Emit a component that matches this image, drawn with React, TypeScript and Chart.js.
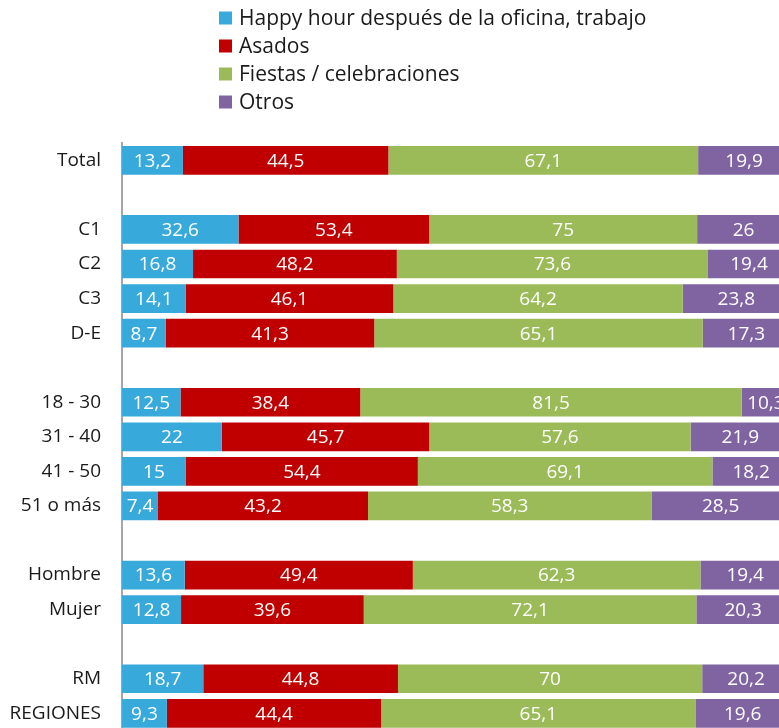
import React, { useEffect, useRef } from "react";
import { Chart, registerables } from "chart.js";

Chart.register(...registerables);

const categories = ["Total", "", "C1", "C2", "C3", "D-E", "", "18 - 30", "31 - 40", "41 - 50", "51 o más", "", "Hombre", "Mujer", "", "RM", "REGIONES"];
const happyHour = [13.2, null, 32.6, 16.8, 14.1, 8.7, null, 12.5, 22, 15, 7.4, null, 13.6, 12.8, null, 18.7, 9.3];
const asados = [44.5, null, 53.4, 48.2, 46.1, 41.3, null, 38.4, 45.7, 54.4, 43.2, null, 49.4, 39.6, null, 44.8, 44.4];
const fiestas = [67.1, null, 75, 73.6, 64.2, 65.1, null, 81.5, 57.6, 69.1, 58.3, null, 62.3, 72.1, null, 70, 65.1];
const otros = [19.9, null, 26, 19.4, 23.8, 17.3, null, 10.3, 21.9, 18.2, 28.5, null, 19.4, 20.3, null, 20.2, 19.6];

const seriesNames = ["Happy hour después de la oficina, trabajo", "Asados", "Fiestas / celebraciones", "Otros"];
const seriesColors = ["#38A9DB", "#C00000", "#9BBB59", "#8064A2"];
const seriesValues = [happyHour, asados, fiestas, otros];

const FONT = "'Open Sans', sans-serif";

export default function App() {
  const ref = useRef<HTMLCanvasElement>(null);
  useEffect(() => {
    if (!ref.current) return;
    const totals = categories.map((_, i) =>
      seriesValues.reduce((s, arr) => s + (arr[i] == null ? 0 : (arr[i] as number)), 0)
    );
    const datasets = seriesValues.map((arr, k) => ({
      label: seriesNames[k],
      backgroundColor: seriesColors[k],
      borderWidth: 0,
      raw: arr,
      data: arr.map((v, i) => (v == null ? null : ((v as number) / totals[i]) * 100)),
      barPercentage: 0.83,
      categoryPercentage: 1,
    }));

    const valueLabels = {
      id: "valueLabels",
      afterDatasetsDraw(chart: any) {
        const ctx = chart.ctx;
        ctx.save();
        ctx.font = `19px ${FONT}`;
        ctx.fillStyle = "#FFFFFF";
        ctx.textAlign = "center";
        ctx.textBaseline = "middle";
        chart.data.datasets.forEach((ds: any, di: number) => {
          const meta = chart.getDatasetMeta(di);
          meta.data.forEach((el: any, i: number) => {
            const v = ds.raw[i];
            if (v == null) return;
            const cx = (el.x + el.base) / 2;
            ctx.fillText(String(v).replace(".", ","), cx, el.y + 1);
          });
        });
        ctx.restore();
      },
    };

    const customLegend = {
      id: "customLegend",
      afterDraw(chart: any) {
        const ctx = chart.ctx;
        ctx.save();
        ctx.font = `21px ${FONT}`;
        ctx.textBaseline = "middle";
        ctx.textAlign = "left";
        chart.data.datasets.forEach((ds: any, i: number) => {
          const y = 18 + i * 28;
          ctx.fillStyle = ds.backgroundColor;
          ctx.fillRect(219, y - 6.5, 13, 13);
          ctx.fillStyle = "#1A1A1A";
          ctx.fillText(ds.label, 239, y + 1);
        });
        ctx.restore();
      },
    };

    const chart = new Chart(ref.current, {
      type: "bar",
      data: { labels: categories, datasets: datasets as any },
      options: {
        indexAxis: "y",
        animation: false,
        responsive: false,
        maintainAspectRatio: false,
        layout: { autoPadding: false, padding: { top: 143, left: 0, right: 0, bottom: 0 } },
        plugins: { legend: { display: false }, tooltip: { enabled: false } },
        scales: {
          x: { stacked: true, min: 0, max: 100, display: false },
          y: {
            stacked: true,
            grid: { display: false, drawTicks: false },
            border: { display: true, color: "#A6A6A6", width: 2 },
            ticks: {
              autoSkip: false,
              padding: 21,
              color: "#1A1A1A",
              font: { family: FONT, size: 19 },
            },
            afterFit: (scale: any) => {
              scale.width = 122;
            },
          },
        },
      },
      plugins: [valueLabels, customLegend],
    });
    return () => chart.destroy();
  }, []);

  return (
    <div style={{ position: "absolute", left: 0, top: 0, width: 779, height: 728, overflow: "hidden", background: "#fff" }}>
      <canvas ref={ref} width={790} height={763} style={{ width: 790, height: 763, display: "block" }} />
    </div>
  );
}
